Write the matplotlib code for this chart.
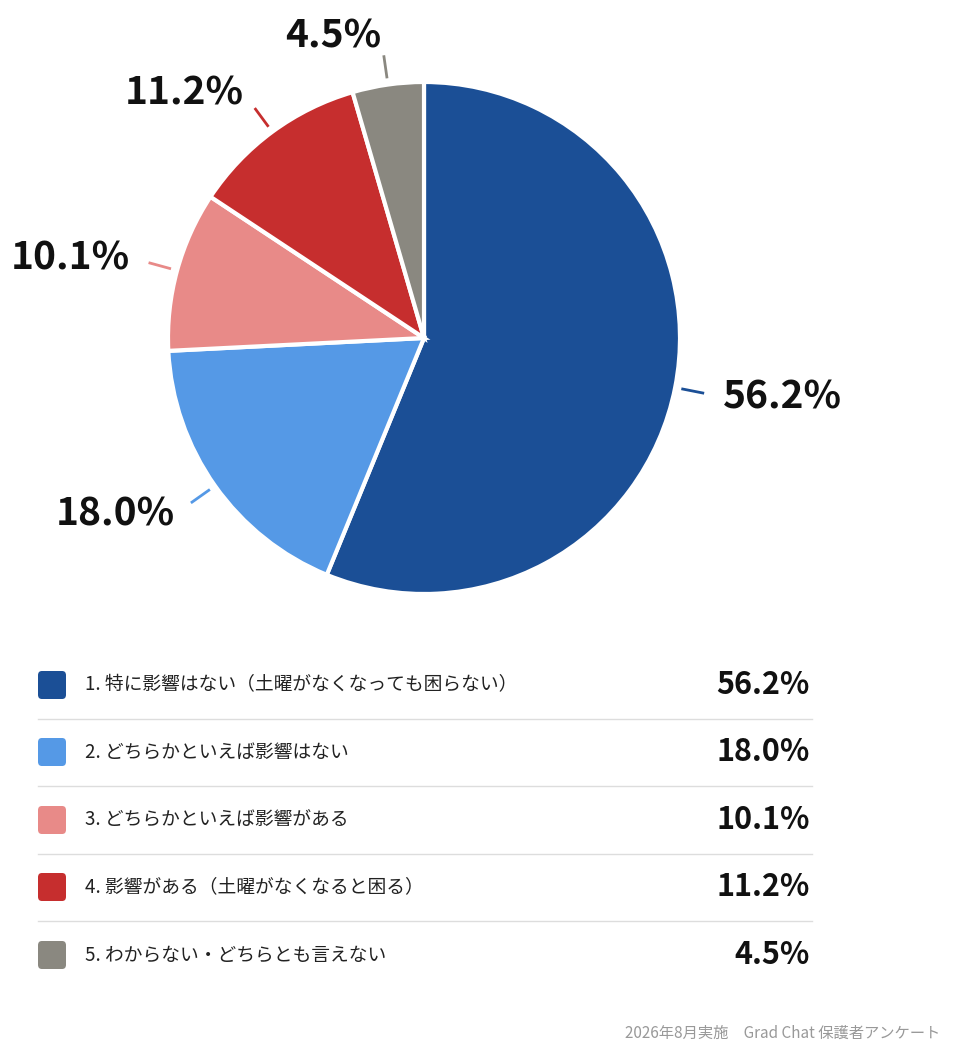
import matplotlib
matplotlib.use("Agg")
import matplotlib.pyplot as plt
import numpy as np
from matplotlib.patches import FancyBboxPatch

plt.rcParams['font.family'] = ['Noto Sans CJK JP', 'DejaVu Sans']

labels = ["1. 特に影響はない（土曜がなくなっても困らない）", "2. どちらかといえば影響はない",
          "3. どちらかといえば影響がある", "4. 影響がある（土曜がなくなると困る）",
          "5. わからない・どちらとも言えない"]
values = [56.2, 18.0, 10.1, 11.2, 4.5]
colors = ["#1B4F96", "#5599E6", "#E88A88", "#C62E2E", "#8A8880"]

W, H = 960, 1063
fig = plt.figure(figsize=(9.6, 10.63), dpi=100)
cx, cy, r = 424, 338, 256
ax = fig.add_axes([(cx - r) / W, (H - cy - r) / H, 2 * r / W, 2 * r / H])
wedges, _ = ax.pie(values, colors=colors, startangle=90, counterclock=False, radius=1,
                   wedgeprops=dict(edgecolor="white", linewidth=3))
ax.set_xlim(-1, 1); ax.set_ylim(-1, 1); ax.set_aspect('equal'); ax.axis('off')
for w, v, c in zip(wedges, values, colors):
    a = np.deg2rad((w.theta1 + w.theta2) / 2)
    ca, sa = np.cos(a), np.sin(a)
    ax.plot([1.03 * ca, 1.11 * ca], [1.03 * sa, 1.11 * sa], color=c, lw=2, clip_on=False)
    ha = 'left' if ca > 0.05 else 'right'
    ax.text(1.19 * ca, 1.19 * sa, f"{v:.1f}%", ha=ha, va='center', fontsize=28,
            fontweight='bold', color="#111111", clip_on=False)

rows = [685, 752, 820, 887, 955]
for i, (lab, v, c) in enumerate(zip(labels, values, colors)):
    y = 1 - rows[i] / H
    fig.patches.append(FancyBboxPatch((38 / W, y - 14 / H), 28 / W, 28 / H,
                       boxstyle="round,pad=0,rounding_size=0.004", transform=fig.transFigure,
                       facecolor=c, edgecolor='none'))
    fig.text(85 / W, y, lab, fontsize=13.5, va='center', ha='left', color="#222222")
    fig.text(810 / W, y, f"{v:.1f}%", fontsize=22, va='center', ha='right',
             fontweight='bold', color="#111111")
    if i < len(rows) - 1:
        ys = 1 - (rows[i] + 33.5) / H
        fig.add_artist(plt.Line2D([38 / W, 812 / W], [ys, ys], color="#DDDDDD", lw=1,
                                  transform=fig.transFigure))

fig.text(940 / W, 1 - 1033 / H, "2026年8月実施　Grad Chat 保護者アンケート", fontsize=11,
         ha='right', va='center', color="#999999")
fig.savefig("out.png", dpi=100, facecolor="white")
